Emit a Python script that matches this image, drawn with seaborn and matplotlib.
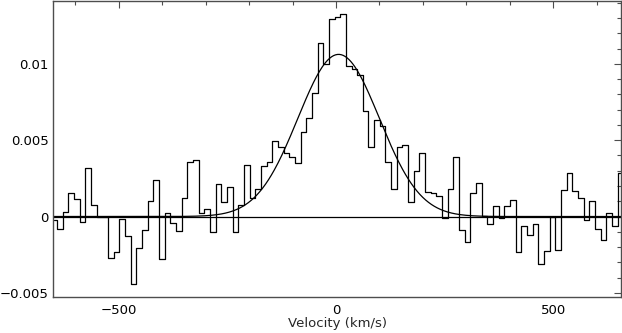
import numpy as np
import pandas as pd
import seaborn as sns
import matplotlib.pyplot as plt
from matplotlib.ticker import MultipleLocator

# channel grid of the spectrum (km/s)
v_start = -647.9
v_step = 13.02

flux = [
    -0.00023, -0.00084, 0.00028, 0.00153, 0.00113, -0.00038, 0.00317, 0.00074, -0.00001, -0.00005,
    -0.00275, -0.00234, -0.00014, -0.00128, -0.00440, -0.00207, -0.00091, 0.00100, 0.00240, -0.00280,
    0.00020, -0.00045, -0.00097, 0.00120, 0.00360, 0.00370,
    0.00021, 0.00049, -0.00104, 0.00212, 0.00097, 0.00196, -0.00104, 0.00074, 0.00337, 0.00122,
    0.00179, 0.00332, 0.00359, 0.00492, 0.00455, 0.00416, 0.00390, 0.00350, 0.00551, 0.00644,
    0.00810, 0.01135, 0.01003, 0.01297, 0.01310, 0.01328,
    0.00986, 0.00968, 0.00931, 0.00690, 0.00459, 0.00630, 0.00591, 0.00357, 0.00179, 0.00459,
    0.00472, 0.00097, 0.00297, 0.00418, 0.00163, 0.00153, 0.00137, -0.00008, 0.00181, 0.00390,
    -0.00089, -0.00166, 0.00153, 0.00218,
    0.00003, -0.00049, 0.00071, -0.00008, 0.00069, 0.00107, -0.00231, -0.00060, -0.00124, -0.00051,
    -0.00313, -0.00227, -0.00001, -0.00220, 0.00174, 0.00284, 0.00166, 0.00120, -0.00023, 0.00102,
    -0.00080, -0.00153, 0.00021, -0.00063, 0.00284,
]

# gaussian fit parameters
fit_amp = 0.01063
fit_center = 6.0
fit_sigma = 93.6

velocity = v_start + v_step * np.arange(len(flux))
spec = pd.DataFrame({"velocity": velocity, "flux": flux})

v_model = np.linspace(-660, 660, 600)
model = pd.DataFrame({
    "velocity": v_model,
    "flux": fit_amp * np.exp(-0.5 * ((v_model - fit_center) / fit_sigma) ** 2),
})

sns.set_style("white")
plt.rcParams["font.family"] = ["DejaVu Sans"]

fig = plt.figure(figsize=(6.22, 3.33), dpi=100)
ax = fig.add_axes([0.0857, 0.108, 0.9125, 0.889])

ax.axhline(0, color="black", lw=0.9)
sns.lineplot(data=spec, x="velocity", y="flux", ax=ax, color="black",
             lw=0.9, drawstyle="steps-mid", estimator=None, sort=False)
sns.lineplot(data=model, x="velocity", y="flux", ax=ax, color="black",
             lw=0.9, estimator=None, sort=False)

ax.set_xlim(-650, 655)
ax.set_ylim(-0.00528, 0.01413)

ax.xaxis.set_major_locator(MultipleLocator(500))
ax.xaxis.set_minor_locator(MultipleLocator(100))
ax.yaxis.set_major_locator(MultipleLocator(0.005))
ax.yaxis.set_minor_locator(MultipleLocator(0.001))
ax.set_yticks([-0.005, 0, 0.005, 0.01])
ax.set_yticklabels(["\u22120.005", "0", "0.005", "0.01"])
ax.set_xticks([-500, 0, 500])
ax.set_xticklabels(["\u2212500", "0", "500"])

ax.tick_params(which="both", direction="in", top=True, right=True,
               colors="0.3", labelcolor="black", labelsize=9.5)
ax.tick_params(which="major", length=5, width=0.8)
ax.tick_params(which="minor", length=3, width=0.8)
ax.tick_params(axis="x", which="major", pad=5)
for s in ax.spines.values():
    s.set_color("0.3")
    s.set_linewidth(1.0)

ax.set_xlabel("Velocity (km/s)", fontsize=9.5, labelpad=0)
ax.set_ylabel("")

fig.savefig("out.png", dpi=100)
